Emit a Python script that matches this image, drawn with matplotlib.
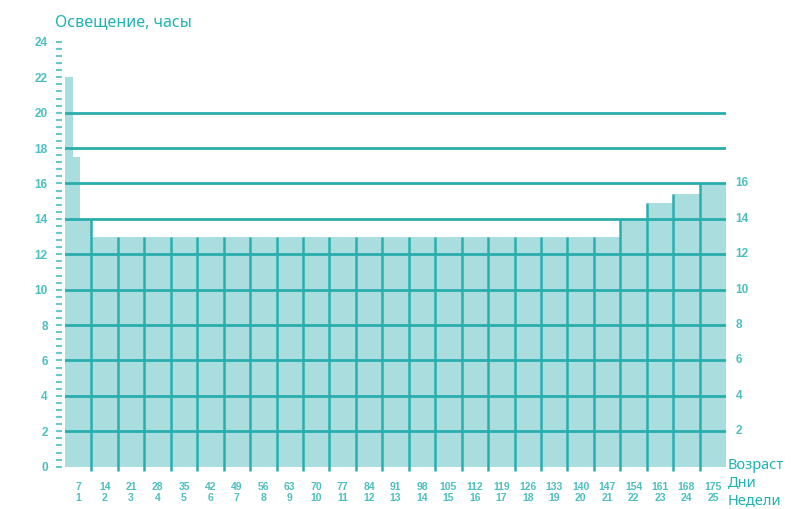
import numpy as np
from matplotlib import pyplot as plt

# DATA
week_nums = [1, 2, 3, 4, 5, 6, 7, 8, 9, 10, 11, 12, 13, 14, 15, 16, 17, 18, 19, 20,
             21, 22, 23, 24, 25]
day_nums = [7, 14, 21, 28, 35, 42, 49, 56, 63, 70, 77, 84, 91, 98, 105, 112, 119,
            126, 133, 140, 147, 154, 161, 168, 175]
# first week is split into steps (start day, length in days, hours)
first_week_start = [0, 2, 4]
first_week_len = [2, 2, 3]
first_week_hours = [22, 17.5, 14]
# weeks 2..25
week_hours = [13, 13, 13, 13, 13, 13, 13, 13, 13, 13, 13, 13, 13, 13, 13, 13, 13,
              13, 13, 13, 14, 14.9, 15.4, 16]
left_ticks = [0, 2, 4, 6, 8, 10, 12, 14, 16, 18, 20, 22, 24]
right_ticks = [2, 4, 6, 8, 10, 12, 14, 16]
grid_levels = [2, 4, 6, 8, 10, 12, 14, 16, 18, 20]

BAR = "#aadede"
LINE = "#2aadad"
TXT = "#4cbfbf"
TITLE = "#1db3b3"
NUM_FONT = ["Liberation Sans", "DejaVu Sans"]

fig = plt.figure(figsize=(7.91, 5.09), dpi=100)
ax = fig.add_axes([0.0822, 0.0727, 0.8358, 0.845])

# bars
ax.bar(first_week_start, first_week_hours, width=first_week_len, align="edge",
       color=BAR, linewidth=0, zorder=1)
centers = [d - 3.5 for d in day_nums[1:]]
ax.bar(centers, week_hours, width=7, color=BAR, linewidth=0, zorder=1)

# horizontal lines
for lv in grid_levels:
    ax.axhline(lv, color=LINE, lw=2, zorder=3)

# vertical lines between columns
all_h = [first_week_hours[-1]] + week_hours
for i in range(1, len(all_h)):
    ax.vlines(day_nums[i - 1], -0.25, max(all_h[i - 1], all_h[i]),
              color=LINE, lw=1.8, zorder=3)

ax.set_xlim(0, 175)
ax.set_ylim(-0.3, 24)
ax.spines["left"].set_position(("outward", 2))
for s in ax.spines.values():
    s.set_visible(False)

# left axis ticks
ax.set_yticks(left_ticks)
ax.set_yticklabels([str(t) for t in left_ticks], color=TXT, fontsize=8.5,
                   fontweight="bold", family=NUM_FONT)
ax.set_yticks(np.arange(0, 24.01, 0.4), minor=True)
ax.tick_params(axis="y", which="both", length=4.5, width=1.2, color=TXT, pad=6)

# x labels: days and weeks
ax.set_xticks([d - 3.5 for d in day_nums])
ax.set_xticklabels([f"{d}\n{w}" for d, w in zip(day_nums, week_nums)],
                   color=TXT, fontsize=7.5, fontweight="bold", family=NUM_FONT,
                   linespacing=1.1)
ax.tick_params(axis="x", length=0, pad=7)

# right labels
for t in right_ticks:
    ax.text(177.5, t, str(t), color=TXT, fontsize=8.5, fontweight="bold",
            family=NUM_FONT, ha="left", va="center")

fig.text(0.069, 0.957, "Освещение, часы", color=TITLE, fontsize=11.5,
         family="Noto Sans", ha="left", va="center")
fig.text(0.92, 0.086, "Возраст", color=TITLE, fontsize=10.5, family="Noto Sans",
         ha="left", va="center")
fig.text(0.92, 0.052, "Дни", color=TITLE, fontsize=10.5, family="Noto Sans",
         ha="left", va="center")
fig.text(0.92, 0.017, "Недели", color=TITLE, fontsize=10.5, family="Noto Sans",
         ha="left", va="center")

plt.savefig("out.png", dpi=100)
